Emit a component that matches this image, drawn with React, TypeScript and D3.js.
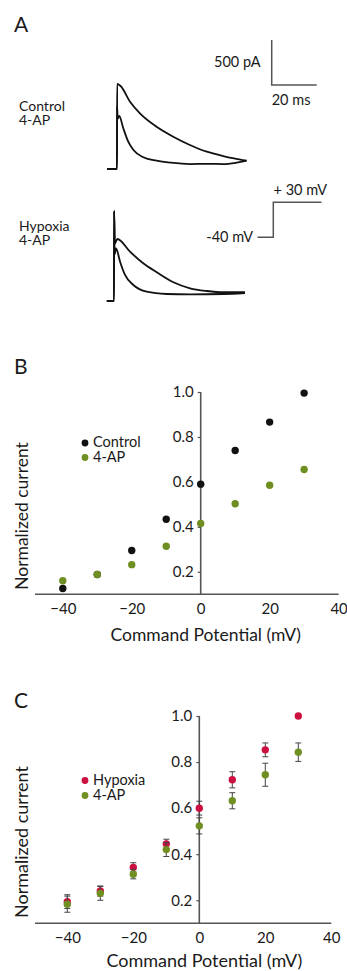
import React, { useRef, useEffect } from "react";
import * as d3 from "d3";

// ---- Panel A: current traces, [time ms, current pA]
const controlTrace: [number, number][] = [
    [-4.4, 0], [0, 0], [0.05, 945], [1.6, 922], [5.8, 748], [10.2, 619], [17.6, 470],
    [25, 359], [32.4, 267], [39.9, 192], [47.2, 144], [52, 118], [57.6, 92],
];
const control4APTrace: [number, number][] = [
    [-4.4, 0], [0, 0], [0.05, 700], [0.3, 560], [1.0, 589], [2.8, 452], [5, 303], [7.3, 211],
    [11.7, 130], [17.6, 92], [24, 70], [32.4, 55], [40, 58], [47.2, 55], [53, 70], [57.6, 92],
];
const hypoxiaTrace: [number, number][] = [
    [-3.2, 0], [0, 0], [0.05, 1000], [0.4, 640], [1.5, 689], [7.1, 548], [13, 419], [19, 319],
    [26.4, 208], [33.8, 141], [41.2, 111], [48.6, 97], [58.2, 97],
];
const hypoxia4APTrace: [number, number][] = [
    [-3.2, 0], [0, 0], [0.05, 1000], [0.3, 520], [0.9, 585], [2.7, 437], [4.9, 289], [8.6, 178],
    [14.5, 103], [23.4, 78], [33.8, 74], [48.6, 78], [58.2, 89],
];
const scaleBarPA = 500;
const scaleBarMs = 20;
const protocolLevels = [-40, 30]; // mV
const protocolTimes = [-7, 0, 21.4]; // ms

// ---- Panel B: I-V, normalized
const potentials = [-40, -30, -20, -10, 0, 10, 20, 30];
const bControl = [0.126, 0.188, 0.295, 0.434, 0.59, 0.74, 0.866, 0.995];
const b4AP = [0.16, 0.188, 0.232, 0.314, 0.415, 0.503, 0.585, 0.655];

// ---- Panel C: I-V with sem
const cHypoxia = [0.194, 0.24, 0.343, 0.445, 0.6, 0.723, 0.853, 1.0];
const cHypoxiaErr = [0.03, 0.022, 0.02, 0.02, 0.03, 0.035, 0.03, 0];
const c4AP = [0.183, 0.23, 0.313, 0.42, 0.523, 0.632, 0.745, 0.843];
const c4APErr = [0.035, 0.03, 0.02, 0.03, 0.035, 0.035, 0.05, 0.04];

const yTicks = [0.2, 0.4, 0.6, 0.8, 1.0];
const xTicks = [-40, -20, 0, 20, 40];

const FONT = "Lato, 'Open Sans', sans-serif";
const GREEN = "#6f8f22";
const RED = "#cc1040";
const AXIS = "#555";

export default function App() {
    const ref = useRef<SVGSVGElement | null>(null);

    useEffect(() => {
        if (!ref.current) return;
        const svg = d3.select(ref.current);
        svg.selectAll("*").remove();
        svg.style("font-family", FONT);

        const label = (x: number, y: number, s: string, size: number, anchor = "start") =>
            svg.append("text").attr("x", x).attr("y", y).attr("font-size", size)
                .attr("text-anchor", anchor).attr("fill", "#1a1a1a").text(s);

        // two stacked lines in one text element (tight leading like the figure)
        const stacked = (x: number, y: number, lines: string[], gap: number, size: number) => {
            const t = svg.append("text").attr("x", x).attr("y", y).attr("font-size", size).attr("fill", "#1a1a1a");
            lines.forEach((s, i) => t.append("tspan").attr("x", x).attr("dy", i ? gap : 0).text(s));
        };

        // ===== Panel A =====
        label(14, 32, "A", 21);
        stacked(19, 111, ["Control", "4-AP"], 13.5, 14);
        stacked(19, 231, ["Hypoxia", "4-AP"], 14, 14);

        const line = d3.line<[number, number]>().curve(d3.curveMonotoneX);
        const drawTrace = (data: [number, number][], xs: d3.ScaleLinear<number, number>, ys: d3.ScaleLinear<number, number>) => {
            svg.append("path")
                .attr("d", line.x(d => xs(d[0])).y(d => ys(d[1]))(data))
                .attr("fill", "none").attr("stroke", "#111").attr("stroke-width", 1.8)
                .attr("stroke-linejoin", "round");
        };
        const xA1 = d3.scaleLinear().domain([0, 20]).range([117, 162]);
        const yA1 = d3.scaleLinear().domain([0, 500]).range([169, 124]);
        const xA2 = d3.scaleLinear().domain([0, 20]).range([114, 159]);
        const yA2 = d3.scaleLinear().domain([0, 500]).range([301, 256]);
        drawTrace(controlTrace, xA1, yA1);
        drawTrace(control4APTrace, xA1, yA1);
        drawTrace(hypoxiaTrace, xA2, yA2);
        drawTrace(hypoxia4APTrace, xA2, yA2);

        // scale bar
        const sbX = 271.7, sbY = 85;
        const sbH = yA1(0) - yA1(scaleBarPA);
        const sbW = xA1(scaleBarMs) - xA1(0);
        svg.append("path")
            .attr("d", `M${sbX},${sbY - sbH}V${sbY}H${sbX + sbW}`)
            .attr("fill", "none").attr("stroke", AXIS).attr("stroke-width", 1.5);
        label(sbX - 11, 67, "500 pA", 14.5, "end");
        label(sbX, 105, "20 ms", 14.5);

        // voltage protocol
        const vS = d3.scaleLinear().domain(protocolLevels).range([237.3, 202.3]);
        const tS = d3.scaleLinear().domain([0, 20]).range([273.3, 318.3]);
        const proto = d3.line<[number, number]>().curve(d3.curveStepAfter).x(d => tS(d[0])).y(d => vS(d[1]));
        svg.append("path")
            .attr("d", proto([[protocolTimes[0], protocolLevels[0]], [protocolTimes[1], protocolLevels[1]], [protocolTimes[2], protocolLevels[1]]]))
            .attr("fill", "none").attr("stroke", AXIS).attr("stroke-width", 1.5);
        label(253, 242, "-40 mV", 14.5, "end");
        label(327, 195, "+ 30 mV", 14.5, "end");

        // ===== I-V panels =====
        const ivPanel = (opts: {
            letter: string; letterY: number; xRange: [number, number]; yRange: [number, number];
            series: { values: number[]; err?: number[]; color: string }[];
            legend: { name: string; color: string }[]; legendY: number[];
            yTitle: number; xTitle: number; titleSize: number; lineStart: number;
        }) => {
            const x = d3.scaleLinear().domain([-40, 40]).range(opts.xRange);
            const y = d3.scaleLinear().domain([0.1, 1.0]).range(opts.yRange);
            label(14, opts.letterY, opts.letter, 21);

            // axes
            svg.append("line").attr("x1", opts.lineStart).attr("x2", x(40))
                .attr("y1", y(0.1)).attr("y2", y(0.1)).attr("stroke", AXIS).attr("stroke-width", 1.6);
            svg.append("line").attr("x1", x(0)).attr("x2", x(0))
                .attr("y1", y(0.1)).attr("y2", y(1.0)).attr("stroke", AXIS).attr("stroke-width", 1.6);

            const gy = svg.append("g").attr("transform", `translate(${x(0)},0)`)
                .call(d3.axisLeft(y).tickValues(yTicks).tickSize(3).tickPadding(4).tickFormat(d3.format(".1f")));
            gy.select(".domain").remove();
            gy.selectAll("line").attr("stroke", AXIS).attr("stroke-width", 1.2);
            gy.selectAll("text").attr("font-size", 15).attr("fill", "#1a1a1a").attr("font-family", FONT);

            const gx = svg.append("g").attr("transform", `translate(0,${y(0.1)})`)
                .call(d3.axisBottom(x).tickValues(xTicks).tickSize(0).tickPadding(9));
            gx.select(".domain").remove();
            gx.selectAll("text").attr("font-size", 15).attr("fill", "#1a1a1a").attr("font-family", FONT);

            // series
            opts.series.forEach(s => {
                if (s.err) {
                    s.values.forEach((v, i) => {
                        const e = s.err![i];
                        if (!e) return;
                        const cx = x(potentials[i]);
                        svg.append("path")
                            .attr("d", `M${cx},${y(v - e)}V${y(v + e)}M${cx - 3},${y(v - e)}H${cx + 3}M${cx - 3},${y(v + e)}H${cx + 3}`)
                            .attr("stroke", "#444").attr("stroke-width", 1).attr("fill", "none");
                    });
                }
                svg.append("g").selectAll("circle").data(s.values).join("circle")
                    .attr("cx", (_, i) => x(potentials[i])).attr("cy", d => y(d))
                    .attr("r", 3.7).attr("fill", s.color);
            });

            // legend
            opts.legend.forEach((l, i) => {
                svg.append("circle").attr("cx", 85).attr("cy", opts.legendY[i] + 1).attr("r", 3.4).attr("fill", l.color);
            });
            stacked(93, opts.legendY[0] + 5, opts.legend.map(l => l.name), opts.legendY[1] - opts.legendY[0], 14.5);

            // titles
            svg.append("text").attr("transform", `translate(28,${opts.yTitle}) rotate(-90)`)
                .attr("text-anchor", "middle").attr("font-size", opts.titleSize).attr("fill", "#1a1a1a")
                .text("Normalized current");
            label(x(0) + 5, opts.xTitle, "Command Potential (mV)", opts.titleSize, "middle");
        };

        ivPanel({
            letter: "B", letterY: 374, xRange: [62.8, 338.6], yRange: [594.3, 392],
            series: [{ values: bControl, color: "#111" }, { values: b4AP, color: GREEN }],
            legend: [{ name: "Control", color: "#111" }, { name: "4-AP", color: GREEN }],
            legendY: [442, 456.5], yTitle: 516, xTitle: 641, titleSize: 17.5, lineStart: 35,
        });
        ivPanel({
            letter: "C", letterY: 708, xRange: [67.3, 331.3], yRange: [923.3, 716],
            series: [
                { values: cHypoxia, err: cHypoxiaErr, color: RED },
                { values: c4AP, err: c4APErr, color: GREEN },
            ],
            legend: [{ name: "Hypoxia", color: RED }, { name: "4-AP", color: GREEN }],
            legendY: [779.5, 794.5], yTitle: 842, xTitle: 967, titleSize: 18, lineStart: 35,
        });
    }, []);

    return (
        <svg ref={ref} width={347} height={971}
            style={{ position: "absolute", left: 0, top: 0, background: "#fff" }} />
    );
}
